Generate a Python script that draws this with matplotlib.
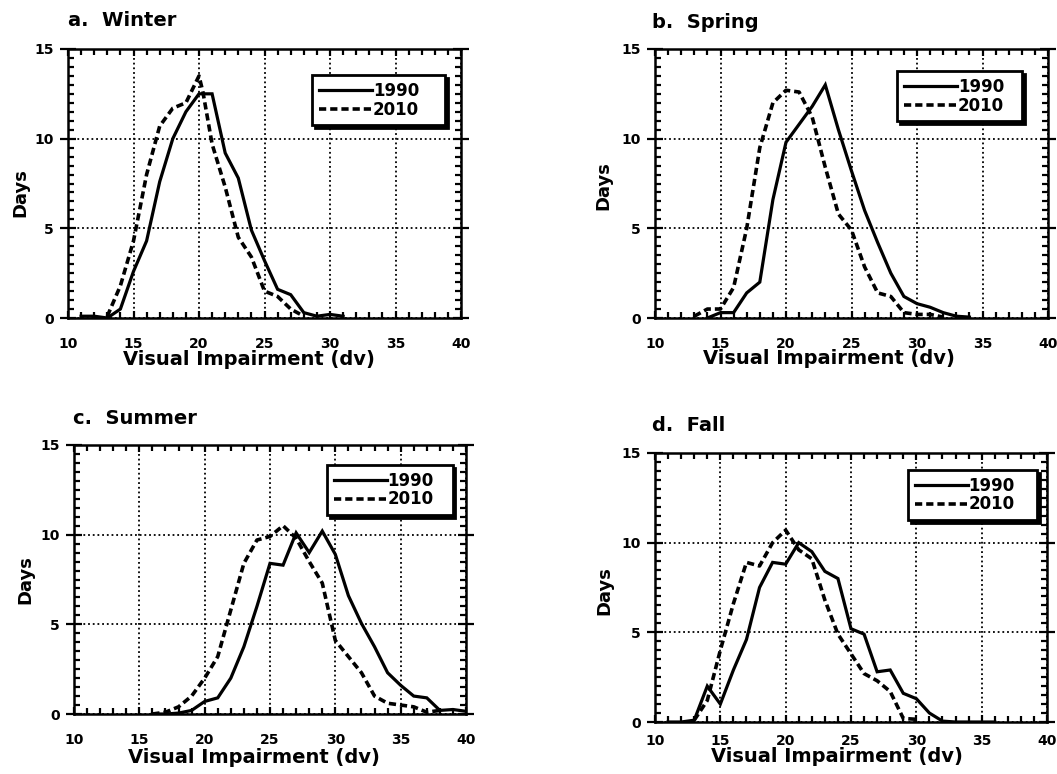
import matplotlib
matplotlib.use("Agg")
import matplotlib.pyplot as plt
from matplotlib.ticker import MultipleLocator

plt.rcParams['font.family'] = ['DejaVu Sans']
plt.rcParams['font.weight'] = 'bold'

# ---------------- data ----------------
winter_x90 = [11, 12, 13, 14, 15, 16, 17, 18, 19, 20, 21, 22, 23, 24, 25, 26, 27, 28, 29, 30, 31]
winter_y90 = [0.1, 0.1, 0.0, 0.5, 2.6, 4.3, 7.6, 10.0, 11.5, 12.5, 12.5, 9.2, 7.8, 4.9, 3.2, 1.6, 1.3, 0.3, 0.1, 0.2, 0.1]
winter_x10 = [13, 14, 15, 16, 17, 18, 19, 20, 20.3, 21, 22, 23, 24, 25, 26, 27, 28]
winter_y10 = [0.1, 1.8, 4.3, 8.0, 10.7, 11.7, 12.0, 13.5, 12.6, 9.7, 7.3, 4.5, 3.4, 1.5, 1.2, 0.5, 0.1]

spring_x90 = [14, 15, 16, 17, 18, 19, 20, 21, 22, 23, 24, 25, 26, 27, 28, 29, 30, 31, 32, 33, 34]
spring_y90 = [0.0, 0.3, 0.3, 1.4, 2.0, 6.6, 9.8, 10.8, 11.8, 13.0, 10.5, 8.2, 6.0, 4.2, 2.5, 1.2, 0.8, 0.6, 0.3, 0.1, 0.05]
spring_x10 = [13, 14, 15, 16, 17, 18, 19, 20, 21, 22, 23, 24, 25, 26, 27, 28, 29, 30, 31, 32]
spring_y10 = [0.1, 0.5, 0.5, 1.7, 5.0, 9.5, 12.0, 12.7, 12.6, 11.2, 8.4, 5.8, 4.9, 2.85, 1.4, 1.2, 0.3, 0.2, 0.2, 0.05]

summer_x90 = [16, 17, 18, 19, 20, 21, 22, 23, 24, 25, 26, 27, 28, 29, 30, 31, 32, 33, 34, 35, 36, 37, 38, 39, 40]
summer_y90 = [0.0, 0.0, 0.05, 0.2, 0.7, 0.9, 2.0, 3.75, 6.0, 8.4, 8.3, 10.1, 9.0, 10.2, 8.9, 6.6, 5.05, 3.75, 2.3, 1.6, 1.0, 0.9, 0.2, 0.25, 0.15]
summer_x10 = [16, 17, 18, 19, 20, 21, 22, 23, 24, 25, 26, 27, 28, 29, 30, 31, 32, 33, 34, 35, 36, 37, 38]
summer_y10 = [0.0, 0.1, 0.4, 1.0, 2.0, 3.2, 5.8, 8.4, 9.7, 9.9, 10.5, 9.8, 8.5, 7.3, 4.1, 3.2, 2.3, 1.0, 0.6, 0.5, 0.4, 0.1, 0.2]

fall_x90 = [11, 12, 13, 14, 15, 16, 17, 18, 19, 20, 21, 22, 23, 24, 25, 26, 27, 28, 29, 30, 31, 32, 33, 34, 35, 36]
fall_y90 = [0.0, 0.0, 0.1, 2.0, 1.0, 2.9, 4.6, 7.5, 8.9, 8.8, 10.0, 9.5, 8.4, 8.0, 5.2, 4.9, 2.8, 2.9, 1.6, 1.3, 0.5, 0.05, 0.0, 0.0, 0.0, 0.0]
fall_x10 = [13, 14, 15, 16, 17, 18, 19, 20, 21, 22, 23, 24, 25, 26, 27, 28, 29, 30]
fall_y10 = [0.1, 1.2, 4.0, 6.6, 8.9, 8.7, 10.0, 10.7, 9.6, 9.1, 6.8, 4.9, 3.8, 2.7, 2.3, 1.7, 0.2, 0.15]

titles = ["a.  Winter", "b.  Spring", "c.  Summer", "d.  Fall"]
legend_labels = ["1990", "2010"]
x_label = "Visual Impairment (dv)"
y_label = "Days"

panels = [
    (winter_x90, winter_y90, winter_x10, winter_y10),
    (spring_x90, spring_y90, spring_x10, spring_y10),
    (summer_x90, summer_y90, summer_x10, summer_y10),
    (fall_x90, fall_y90, fall_x10, fall_y10),
]

W, H = 1057, 774
fig = plt.figure(figsize=(W / 100, H / 100), dpi=100)

# axes boxes in pixels: left, right, top, bottom
boxes = [(68, 461, 49, 318), (655, 1048, 49, 318), (74, 466, 445, 714), (655, 1047, 453, 722)]
title_pos = [(68, 21), (652, 22), (73, 419), (652, 425)]
xtick_pad = [14, 14, 14, 8.5]
xlabel_pos = [(0.46, -0.155), (0.443, -0.152), (0.459, -0.16), (0.464, -0.13)]
ylabel_pos = [(-0.122, 0.465), (-0.132, 0.494), (-0.125, 0.498), (-0.128, 0.49)]
legend_box = [(0.621, 0.903, 0.338), (0.616, 0.918, 0.318), (0.645, 0.926, 0.321), (0.645, 0.937, 0.329)]

for i, (x90, y90, x10, y10) in enumerate(panels):
    l, r, t, b = boxes[i]
    ax = fig.add_axes([l / W, 1 - b / H, (r - l) / W, (b - t) / H])
    ax.plot(x90, y90, color='black', lw=2.3, ls='-', label=legend_labels[0], solid_joinstyle='miter')
    ax.plot(x10, y10, color='black', lw=2.6, ls=(0, (2.0, 1.1)), label=legend_labels[1])
    ax.set_xlim(10, 40)
    ax.set_ylim(0, 15)
    ax.xaxis.set_major_locator(MultipleLocator(5))
    ax.xaxis.set_minor_locator(MultipleLocator(1))
    ax.yaxis.set_major_locator(MultipleLocator(5))
    ax.yaxis.set_minor_locator(MultipleLocator(0.5))
    ax.grid(True, which='major', color='black', ls=(0, (1, 1.6)), lw=1.3)
    for s in ax.spines.values():
        s.set_linewidth(1.8)
    ax.tick_params(axis='x', which='both', direction='in', top=True, bottom=True, width=1.6)
    ax.tick_params(axis='x', which='major', length=5, pad=xtick_pad[i], labelsize=10)
    ax.tick_params(axis='x', which='minor', length=4.5)
    ax.tick_params(axis='y', which='both', left=True, right=True, width=1.6)
    ax.tick_params(axis='y', which='major', direction='inout', length=12, pad=4, labelsize=10)
    ax.tick_params(axis='y', which='minor', direction='in', length=4.5)
    for lab in ax.get_xticklabels() + ax.get_yticklabels():
        lab.set_fontweight('bold')

    ax.set_xlabel(x_label, fontsize=14, fontweight='bold')
    ax.xaxis.set_label_coords(*xlabel_pos[i])
    ax.xaxis.label.set_va('center')
    ax.set_ylabel(y_label, fontsize=13, fontweight='bold')
    ax.yaxis.set_label_coords(*ylabel_pos[i])
    ax.yaxis.label.set_va('center')

    fig.text(title_pos[i][0] / W, 1 - title_pos[i][1] / H, titles[i], fontsize=14,
             fontweight='bold', ha='left', va='center')

    x0, y0, w = legend_box[i]
    leg = ax.legend(loc='upper left', bbox_to_anchor=(x0, y0, w, 0), mode='expand',
                    borderaxespad=0, fancybox=False, frameon=True, framealpha=1,
                    edgecolor='black', handlelength=3.2, handletextpad=0.05,
                    labelspacing=0.05, borderpad=0.4, fontsize=12,
                    shadow={'color': 'black', 'alpha': 1, 'ox': 2.0, 'oy': -2.0})
    leg.get_frame().set_linewidth(2.0)
    for txt in leg.get_texts():
        txt.set_fontweight('bold')

fig.savefig("out.png", dpi=100)
